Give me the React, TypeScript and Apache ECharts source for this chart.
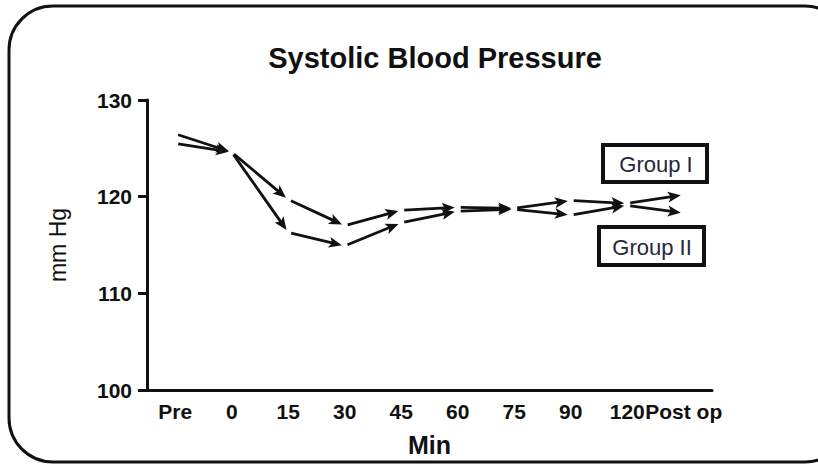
import React, { useEffect, useRef } from "react";
import * as echarts from "echarts";

const categories = ["Pre", "0", "15", "30", "45", "60", "75", "90", "120", "Post op"];
const groupI = [125.5, 124.6, 119.7, 117.0, 118.6, 118.9, 118.8, 119.6, 119.3, 120.2];
const groupII = [126.5, 124.6, 116.3, 114.9, 117.3, 118.5, 118.7, 118.1, 119.1, 118.3];
const yTicks = [100, 110, 120, 130];

const FONT = "'Liberation Sans', Arial, sans-serif";
const INK = "#111111";

function segments(values: number[]) {
  return values.slice(0, -1).map((v, i) => [i, v, i + 1, values[i + 1]]);
}

function renderArrow(_params: any, api: any) {
  const p1 = api.coord([api.value(0), api.value(1)]);
  const p2 = api.coord([api.value(2), api.value(3)]);
  const dx = p2[0] - p1[0];
  const dy = p2[1] - p1[1];
  const len = Math.hypot(dx, dy) || 1;
  const ux = dx / len;
  const uy = dy / len;
  const nx = -uy;
  const ny = ux;
  const startGap = 3;
  const endGap = 3;
  const headLen = 13;
  const headW = 5.5;
  const sx = p1[0] + ux * startGap;
  const sy = p1[1] + uy * startGap;
  const tx = p2[0] - ux * endGap;
  const ty = p2[1] - uy * endGap;
  const bx = tx - ux * headLen;
  const by = ty - uy * headLen;
  return {
    type: "group",
    children: [
      {
        type: "line",
        shape: { x1: sx, y1: sy, x2: bx + ux * 4, y2: by + uy * 4 },
        style: { stroke: INK, lineWidth: 2.8 },
      },
      {
        type: "polygon",
        shape: {
          points: [
            [tx, ty],
            [bx + nx * headW, by + ny * headW],
            [bx + ux * 3, by + uy * 3],
            [bx - nx * headW, by - ny * headW],
          ],
        },
        style: { fill: INK },
      },
    ],
  };
}

export default function App() {
  const ref = useRef<HTMLDivElement>(null);
  useEffect(() => {
    document.body.style.margin = "0";
    if (!ref.current) return;
    const chart = echarts.init(ref.current, null, { renderer: "svg" });
    chart.setOption({
      animation: false,
      backgroundColor: "#ffffff",
      title: {
        text: "Systolic Blood Pressure",
        left: 430,
        top: 38,
        textAlign: "center",
        textStyle: { fontFamily: FONT, fontSize: 29, fontWeight: "bold", color: INK },
      },
      grid: { left: 147, right: 106, top: 100, bottom: 77, containLabel: false },
      xAxis: {
        type: "category",
        data: categories,
        boundaryGap: true,
        name: "Min",
        nameLocation: "middle",
        nameGap: 42,
        nameTextStyle: { fontFamily: FONT, fontSize: 25, fontWeight: "bold", color: INK },
        axisLine: { lineStyle: { color: INK, width: 3 } },
        axisTick: { alignWithLabel: true, length: 9, lineStyle: { color: INK, width: 3 } },
        axisLabel: {
          interval: 0,
          margin: 11,
          fontFamily: FONT,
          fontSize: 21,
          fontWeight: "bold",
          color: INK,
        },
        splitLine: { show: false },
      },
      yAxis: {
        type: "value",
        min: 100,
        max: 130,
        interval: 10,
        name: "mm Hg",
        nameLocation: "middle",
        nameRotate: 90,
        nameGap: 78,
        nameTextStyle: { fontFamily: FONT, fontSize: 23, color: INK },
        axisLine: { show: true, lineStyle: { color: INK, width: 3 } },
        axisTick: { show: true, length: 9, lineStyle: { color: INK, width: 3 } },
        axisLabel: {
          margin: 15,
          fontFamily: FONT,
          fontSize: 21,
          fontWeight: "bold",
          color: INK,
          formatter: (v: number) => (yTicks.includes(v) ? String(v) : ""),
        },
        splitLine: { show: false },
      },
      series: [
        {
          name: "Group I",
          type: "custom",
          renderItem: renderArrow,
          encode: { x: [0, 2], y: [1, 3] },
          data: segments(groupI),
        },
        {
          name: "Group II",
          type: "custom",
          renderItem: renderArrow,
          encode: { x: [0, 2], y: [1, 3] },
          data: segments(groupII),
        },
      ],
      graphic: [
        {
          type: "rect",
          shape: { x: 9, y: 6, width: 840, height: 456, r: 44 },
          style: { fill: "none", stroke: INK, lineWidth: 3 },
          silent: true,
        },
        {
          type: "rect",
          shape: { x: 603, y: 145, width: 104, height: 37 },
          style: { fill: "#ffffff", stroke: INK, lineWidth: 4 },
        },
        {
          type: "text",
          x: 656,
          y: 164,
          style: {
            text: "Group I",
            fontFamily: FONT,
            fontSize: 22,
            fill: "#26283a",
            align: "center",
            verticalAlign: "middle",
          },
        },
        {
          type: "rect",
          shape: { x: 599, y: 227, width: 105, height: 38 },
          style: { fill: "#ffffff", stroke: INK, lineWidth: 4 },
        },
        {
          type: "text",
          x: 652,
          y: 247,
          style: {
            text: "Group II",
            fontFamily: FONT,
            fontSize: 22,
            fill: "#26283a",
            align: "center",
            verticalAlign: "middle",
          },
        },
      ],
    });
    return () => chart.dispose();
  }, []);
  return <div ref={ref} style={{ width: 818, height: 467 }} />;
}
